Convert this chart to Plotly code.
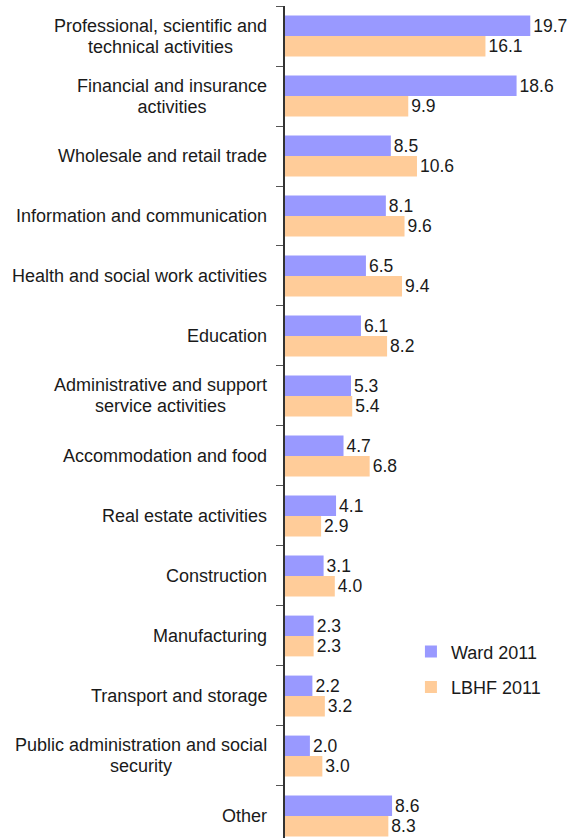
import plotly.graph_objects as go

categories = [
    "Professional, scientific and<br>technical activities",
    "Financial and insurance<br>activities",
    "Wholesale and retail trade",
    "Information and communication",
    "Health and social work activities",
    "Education",
    "Administrative and support<br>service activities",
    "Accommodation and food",
    "Real estate activities",
    "Construction",
    "Manufacturing",
    "Transport and storage",
    "Public administration and social<br>security",
    "Other",
]
ward_2011 = [19.7, 18.6, 8.5, 8.1, 6.5, 6.1, 5.3, 4.7, 4.1, 3.1, 2.3, 2.2, 2.0, 8.6]
lbhf_2011 = [16.1, 9.9, 10.6, 9.6, 9.4, 8.2, 5.4, 6.8, 2.9, 4.0, 2.3, 3.2, 3.0, 8.3]
series_names = ["Ward 2011", "LBHF 2011"]
colors = ["#9999ff", "#ffcc99"]

FONT = "Liberation Sans, Arial, sans-serif"
TXT = "#1a1a1a"

fig = go.Figure()
for name, vals, col in zip(series_names, [ward_2011, lbhf_2011], colors):
    fig.add_trace(go.Bar(
        y=categories, x=vals, orientation="h", name=name,
        marker=dict(color=col, line=dict(width=0)),
        text=[f"{v:.1f}" for v in vals], textposition="outside",
        textfont=dict(family=FONT, size=17.5, color=TXT),
        constraintext="none", cliponaxis=False, legendgroup=name,
    ))

for c in categories:
    label = "<br>".join(f'<span style="font-size:18px">{ln}</span>' for ln in c.split("<br>"))
    fig.add_annotation(
        x=0, xref="paper", y=c, yref="y", text=label, showarrow=False,
        xanchor="right", yanchor="middle", align="center", xshift=-16,
        font=dict(family=FONT, size=16, color=TXT),
    )

fig.update_layout(
    width=568, height=838,
    margin=dict(l=285, r=0, t=6, b=0),
    paper_bgcolor="white", plot_bgcolor="white",
    barmode="group", bargap=0.32, bargroupgap=0,
    showlegend=True,
    legend=dict(x=0.445, y=0.246, xanchor="left", yanchor="top",
                font=dict(family=FONT, size=18, color=TXT),
                traceorder="grouped", tracegroupgap=9,
                bgcolor="rgba(0,0,0,0)"),
    xaxis=dict(range=[0, 22.73], showgrid=False, zeroline=False,
               showticklabels=False, showline=False, ticks=""),
    yaxis=dict(type="category", categoryorder="array", categoryarray=categories,
               range=[13.367, -0.5], showticklabels=False, showgrid=False,
               zeroline=False, showline=True, linecolor="#333333", linewidth=1.5,
               ticks="outside", tickson="boundaries", ticklen=7,
               tickcolor="#555555", tickwidth=1),
    font=dict(family=FONT),
)

fig.write_html(
    "out.html",
    config={"displayModeBar": False},
    post_script="document.body.style.margin='0';document.body.style.overflow='hidden';",
)
